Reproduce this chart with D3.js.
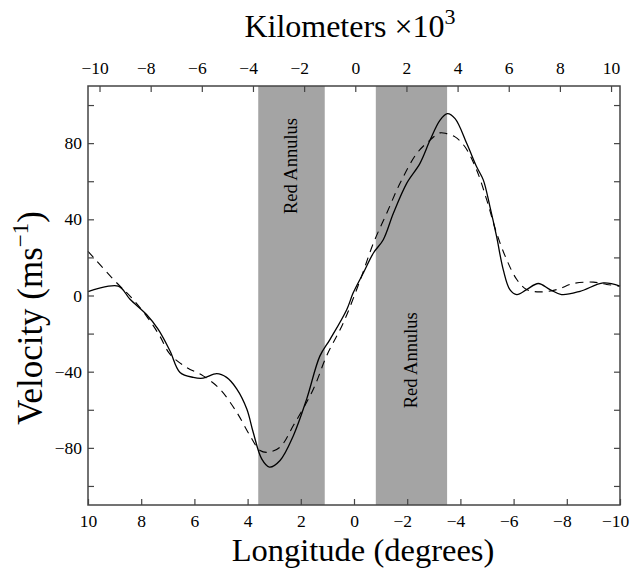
<!DOCTYPE html>
<html>
<head>
<meta charset="utf-8">
<script src="https://cdn.jsdelivr.net/npm/d3@7"></script>
<style>
  body { margin: 0; background: #fff; }
  text { font-family: 'Liberation Serif', 'DejaVu Serif', serif; fill: #000; }
</style>
</head>
<body>
<div id="chart"></div>
<script>
// solid curve (longitude in degrees, velocity in m/s)
const solidLon = [10, 8.86, 8.42, 7.8, 7.36, 6.92, 6.54, 6.04, 5.67, 5.16, 4.79, 4.41, 4.03, 3.79, 3.47,
  3.18, 2.78, 2.28, 1.78, 1.28, 0.9, 0.27, 0.03, -0.35, -0.73, -1.1, -1.48, -1.98, -2.48, -2.86, -3.23,
  -3.51, -3.8, -4.24, -4.61, -4.86, -5.11, -5.36, -5.61, -5.86, -6.12, -6.49, -6.93, -7.37, -7.8, -8.5,
  -9.37, -10];
const solidVel = [2, 4.9, -2, -10, -17.8, -29, -40.4, -43, -43.4, -41, -43, -49, -59.6, -71.8, -85.8,
  -90.1, -86.6, -73.6, -54.4, -31.7, -23, -7.3, 1.4, 11.8, 22.3, 29.3, 43.2, 58.9, 69.4, 81.6, 92,
  95.5, 92.9, 79.8, 67.6, 60.7, 46.7, 31, 13.6, 3.1, 0.5, 3.1, 6.3, 3.1, 0.5, 2.2,
  6.6, 4.9];

// dashed curve
const dashLon = [10, 8.98, 8.42, 7.8, 7.3, 6.92, 6.29, 5.67, 5.04, 4.41, 3.91, 3.53, 3.22, 2.78, 2.28,
  1.53, 1.03, 0.4, -0.23, -0.73, -1.23, -1.73, -2.36, -2.86, -3.23, -3.48, -3.8, -4.17, -4.61, -4.99,
  -5.36, -5.74, -6.12, -6.49, -6.99, -7.62, -8.25, -9, -9.5, -10];
const dashVel = [23.2, 7.5, -0.3, -10.8, -21.3, -30.8, -37.8, -42.2, -49.2, -61.3, -73.6, -81.4, -82.3, -79.6, -68.3,
  -49.2, -31.7, -14.3, 8, 27.5, 43.2, 58.9, 74.6, 81.6, 85.4, 85, 83.3, 78.1, 65.9, 50.2,
  32.8, 18.8, 8.4, 3.1, 1.9, 3.1, 6.3, 7, 5.8, 4.9];

// shaded bands (degrees)
const bandStart = [3.6, -0.82];
const bandEnd = [1.1, -3.5];
const bandLabels = ['Red Annulus', 'Red Annulus'];

const lonTicks = [10, 8, 6, 4, 2, 0, -2, -4, -6, -8, -10];
const kmTicks = [-10, -8, -6, -4, -2, 0, 2, 4, 6, 8, 10];
const velTicks = [-100, -80, -60, -40, -20, 0, 20, 40, 60, 80, 100];
const velLabels = [-80, -40, 0, 40, 80];

const w = 633;
const h = 571;
const m = { left: 88, right: 620, top: 86, bottom: 505 };

const svg = d3.select('#chart').append('svg').attr('width', w).attr('height', h);

const xScale = d3.scaleLinear().domain([10, -10]).range([m.left, m.right]);
const kmScale = d3.scaleLinear().domain([-10.45, 10.35]).range([m.left, m.right]);
const yScale = d3.scaleLinear().domain([-110, 110]).range([m.bottom, m.top]);

// bands
svg.selectAll('rect.band')
  .data(bandStart.map((d, i) => [d, bandEnd[i]]))
  .enter()
  .append('rect')
  .attr('class', 'band')
  .attr('x', (d) => xScale(d[0]))
  .attr('width', (d) => xScale(d[1]) - xScale(d[0]))
  .attr('y', m.top)
  .attr('height', m.bottom - m.top)
  .attr('fill', '#a4a4a4');

const labelVel = [68, -34];
svg.selectAll('text.band-label')
  .data(bandLabels)
  .enter()
  .append('text')
  .attr('class', 'band-label')
  .attr('transform', (d, i) =>
    'translate(' + (xScale((bandStart[i] + bandEnd[i]) / 2) + 6) + ',' + yScale(labelVel[i]) + ') rotate(-90)')
  .attr('text-anchor', 'middle')
  .style('font-size', '18.5px')
  .text((d) => d);

// curves
const line = d3.line()
  .x((d) => xScale(d[0]))
  .y((d) => yScale(d[1]))
  .curve(d3.curveCatmullRom.alpha(0.5));

svg.append('path')
  .datum(solidLon.map((d, i) => [d, solidVel[i]]))
  .attr('d', line)
  .attr('fill', 'none')
  .attr('stroke', '#000')
  .attr('stroke-width', 1.3);

svg.append('path')
  .datum(dashLon.map((d, i) => [d, dashVel[i]]))
  .attr('d', line)
  .attr('fill', 'none')
  .attr('stroke', '#000')
  .attr('stroke-width', 1.1)
  .attr('stroke-dasharray', '8,6');

// axes, ticks point inward
const negShift = (d) => (d < 0 ? '-0.28em' : 0);

const xAxis = d3.axisBottom(xScale).tickValues(lonTicks).tickSize(-6).tickPadding(10).tickSizeOuter(0);
const gx = svg.append('g').attr('transform', 'translate(0,' + m.bottom + ')').call(xAxis);

const topAxis = d3.axisTop(kmScale).tickValues(kmTicks).tickSize(-6).tickPadding(12).tickSizeOuter(0);
const gt = svg.append('g').attr('transform', 'translate(0,' + m.top + ')').call(topAxis);

const yAxis = d3.axisLeft(yScale).tickValues(velTicks).tickSize(-6).tickPadding(6).tickSizeOuter(0)
  .tickFormat((d) => (velLabels.includes(d) ? d3.format('')(d) : ''));
const gy = svg.append('g').attr('transform', 'translate(' + m.left + ',0)').call(yAxis);

const yAxisR = d3.axisRight(yScale).tickValues(velTicks).tickSize(-6).tickFormat('').tickSizeOuter(0);
const gyr = svg.append('g').attr('transform', 'translate(' + m.right + ',0)').call(yAxisR);

[gx, gt].forEach((g) => {
  g.selectAll('text').attr('dx', negShift);
});
[gx, gt, gy, gyr].forEach((g) => {
  g.select('.domain').remove();
  g.selectAll('line').attr('stroke', '#444').attr('stroke-width', 1.2);
  g.selectAll('text').style('font-size', '17.5px').style('font-family', "'Liberation Serif', serif");
});

// frame
svg.append('rect')
  .attr('x', m.left)
  .attr('y', m.top)
  .attr('width', m.right - m.left)
  .attr('height', m.bottom - m.top)
  .attr('fill', 'none')
  .attr('stroke', '#444')
  .attr('stroke-width', 1.5);

// titles
svg.append('text')
  .attr('x', 363)
  .attr('y', 561)
  .attr('text-anchor', 'middle')
  .style('font-size', '32.5px')
  .text('Longitude (degrees)');

const tt = svg.append('text')
  .attr('x', 350)
  .attr('y', 37)
  .attr('text-anchor', 'middle')
  .style('font-size', '32px');
tt.append('tspan').text('Kilometers');
tt.append('tspan').attr('dx', 8).text('\u00d710');
tt.append('tspan').attr('dy', -13).style('font-size', '22px').text('3');

const yt = svg.append('text')
  .attr('transform', 'translate(42,318) rotate(-90)')
  .attr('text-anchor', 'middle')
  .style('font-size', '35px');
yt.append('tspan').text('Velocity (ms');
yt.append('tspan').attr('dy', -14).style('font-size', '23px').text('\u22121');
yt.append('tspan').attr('dy', 14).text(')');
</script>
</body>
</html>
